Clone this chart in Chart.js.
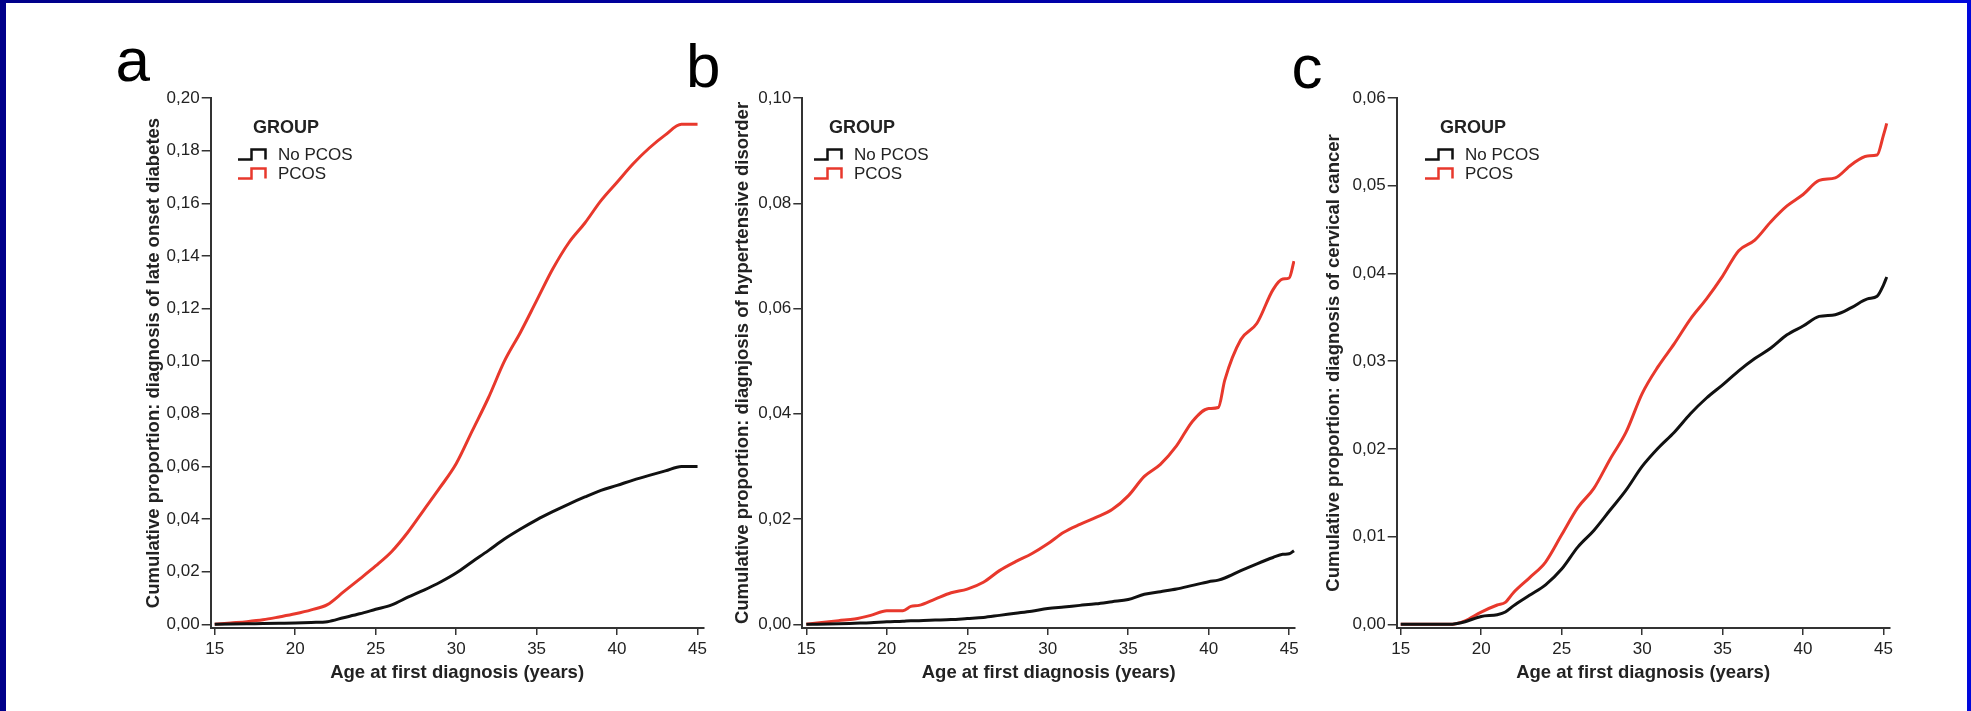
<!DOCTYPE html>
<html>
<head>
<meta charset="utf-8">
<script src="https://cdn.jsdelivr.net/npm/chart.js@4.4.1/dist/chart.umd.min.js"></script>
<style>
html,body{margin:0;padding:0;}
body{width:1971px;height:711px;position:relative;overflow:hidden;
  background:linear-gradient(90deg,#00008a 0%,#0000a4 50%,#0008dc 100%);}
#paper{position:absolute;left:6px;top:3px;width:1961px;height:708px;background:#fff;}
canvas{position:absolute;left:0;top:0;}
</style>
</head>
<body>
<div id="paper"></div>
<canvas id="ca" width="1971" height="711"></canvas>
<canvas id="cb" width="1971" height="711"></canvas>
<canvas id="cc" width="1971" height="711"></canvas>
<script>
// ---------- data ----------
const xTicks = [15, 20, 25, 30, 35, 40, 45];
const xTitle = 'Age at first diagnosis (years)';
const legendTitle = 'GROUP';
const seriesNames = ['No PCOS', 'PCOS'];

// Panel a: late onset diabetes
const agesA = [15,16,17,18,19,20,21,22,23,24,25,26,27,28,29,30,31,32,33,34,35,36,37,38,39,40,41,42,43,44,45];
const aNoPcos = [0,0.0001,0.0002,0.0003,0.0004,0.0005,0.0007,0.001,0.0025,0.004,0.0057,0.0074,0.0103,0.013,0.016,0.0195,0.0238,0.028,0.0324,0.0362,0.0397,0.0428,0.0457,0.0484,0.0509,0.0528,0.0548,0.0566,0.0583,0.06,0.06];
const aPcos = [0,0.0005,0.001,0.0017,0.0028,0.004,0.0055,0.0075,0.0123,0.0172,0.0222,0.0277,0.035,0.0435,0.052,0.061,0.0735,0.086,0.1,0.111,0.123,0.135,0.145,0.1525,0.161,0.168,0.175,0.181,0.186,0.19,0.19];
const yTicksA = [0,0.02,0.04,0.06,0.08,0.10,0.12,0.14,0.16,0.18,0.20];
const yTitleA = 'Cumulative proportion: diagnosis of late onset diabetes';

// Panel b: hypertensive disorder
const agesB = [15,17,18,19,20,21,21.5,22,23,24,25,26,27,28,29,30,31,32,33,34,35,36,37,38,39,40,40.6,41,42,43,44,44.6,45,45.3];
const bNoPcos = [0,0.0001,0.0002,0.0003,0.0005,0.0006,0.0007,0.0007,0.0008,0.0009,0.0011,0.0013,0.0017,0.0021,0.0025,0.003,0.0033,0.0036,0.0039,0.0043,0.0047,0.0057,0.0062,0.0067,0.0074,0.0081,0.0084,0.0088,0.0102,0.0115,0.0127,0.0133,0.0134,0.014];
const bPcos = [0,0.0007,0.001,0.0017,0.0026,0.0026,0.0034,0.0036,0.0048,0.006,0.0067,0.008,0.0102,0.0119,0.0134,0.0153,0.0175,0.019,0.0203,0.0218,0.0244,0.0281,0.0304,0.0339,0.0386,0.041,0.0412,0.0464,0.0541,0.0572,0.0636,0.0656,0.0658,0.069];
const yTicksB = [0,0.02,0.04,0.06,0.08,0.10];
const yTitleB = 'Cumulative proportion: diagnjosis of hypertensive disorder';

// Panel c: cervical cancer
const agesC = [15,16,17,18,18.5,19,20,21,21.5,22,23,24,25,26,27,28,29,30,31,32,33,34,35,36,37,38,39,40,41,42,43,44,44.6,45,45.2];
const cNoPcos = [0,0,0,0,0.0001,0.0003,0.0009,0.0011,0.0014,0.0021,0.0033,0.0045,0.0063,0.0088,0.0107,0.013,0.0153,0.018,0.0201,0.0219,0.024,0.0258,0.0273,0.0289,0.0303,0.0315,0.033,0.034,0.0351,0.0353,0.0361,0.0371,0.0374,0.0387,0.0396];
const cPcos = [0,0,0,0,0.0001,0.0004,0.0014,0.0022,0.0025,0.0036,0.0053,0.0071,0.0102,0.0133,0.0155,0.0188,0.0219,0.0263,0.0294,0.032,0.0348,0.0371,0.0397,0.0426,0.0438,0.0459,0.0477,0.049,0.0506,0.0509,0.0524,0.0534,0.0535,0.0558,0.0571];
const yTicksC = [0,0.01,0.02,0.03,0.04,0.05,0.06];
const yTitleC = 'Cumulative proportion: diagnosis of cervical cancer';

// ---------- rendering ----------
const FAMILY = '"Liberation Sans", Arial, Helvetica, sans-serif';
Chart.defaults.font.family = FAMILY;
const TXT = '#222';
const AXIS = '#333';
const COL_NO = '#111111';
const COL_PCOS = '#e8382c';

const overlay = {
  id: 'overlay',
  afterDraw(chart, args, o) {
    const ctx = chart.ctx;
    ctx.save();
    ctx.fillStyle = '#000';
    ctx.textAlign = 'left';
    ctx.textBaseline = 'alphabetic';
    ctx.font = '62px ' + FAMILY;
    ctx.fillText(o.letter, o.letterX, o.letterY);

    ctx.textBaseline = 'middle';
    ctx.fillStyle = TXT;
    ctx.font = 'bold 18px ' + FAMILY;
    const x0 = o.lx;
    ctx.fillText(legendTitle, x0 + 15, 128.5);
    chart.data.datasets.forEach((ds, i) => {
      const cy = 155 + i * 19;
      ctx.strokeStyle = ds.borderColor;
      ctx.lineWidth = 2.5;
      ctx.lineJoin = 'miter';
      ctx.beginPath();
      ctx.moveTo(x0, cy + 4.5);
      ctx.lineTo(x0 + 13.5, cy + 4.5);
      ctx.lineTo(x0 + 13.5, cy - 5.5);
      ctx.lineTo(x0 + 27.5, cy - 5.5);
      ctx.lineTo(x0 + 27.5, cy + 4.5);
      ctx.stroke();
      ctx.fillStyle = TXT;
      ctx.font = '17px ' + FAMILY;
      ctx.fillText(ds.label, x0 + 40, cy);
    });
    ctx.restore();
  }
};

function makePanel(id, ages, noPcos, pcos, yTicks, yTitle, yMin, L) {
  const pts = arr => ages.map((a, i) => ({x: a, y: arr[i]}));
  new Chart(document.getElementById(id), {
    type: 'line',
    data: {
      datasets: [
        {label: seriesNames[0], data: pts(noPcos), borderColor: COL_NO, borderWidth: 3,
         pointRadius: 0, cubicInterpolationMode: 'monotone', fill: false},
        {label: seriesNames[1], data: pts(pcos), borderColor: COL_PCOS, borderWidth: 3,
         pointRadius: 0, cubicInterpolationMode: 'monotone', fill: false}
      ]
    },
    options: {
      responsive: false,
      animation: false,
      devicePixelRatio: 1,
      layout: {padding: {left: L.yLeft, right: 1971 - L.right, top: 98, bottom: 23}},
      plugins: {
        legend: {display: false},
        tooltip: {enabled: false},
        overlay: L.overlay
      },
      scales: {
        x: {
          type: 'linear', min: 14.75, max: 45.37,
          afterBuildTicks: ax => { ax.ticks = xTicks.map(v => ({value: v})); },
          afterFit: ax => { ax.height = 60; },
          ticks: {font: {size: 17}, color: TXT, padding: 4, maxRotation: 0, autoSkip: false,
                  callback: v => String(v)},
          grid: {display: true, drawOnChartArea: false, drawTicks: true, tickLength: 7,
                 color: AXIS, lineWidth: 1.5},
          border: {display: true, color: AXIS, width: 2},
          title: {display: true, text: xTitle, color: TXT,
                  font: {size: 18.5, weight: 'bold'}, padding: {top: 0, bottom: 4}}
        },
        y: {
          type: 'linear', min: yMin, max: yTicks[yTicks.length - 1],
          afterBuildTicks: ax => { ax.ticks = yTicks.map(v => ({value: v})); },
          afterFit: ax => { ax.width = L.axisX - L.yLeft; },
          ticks: {font: {size: 17}, color: TXT, padding: 2,
                  callback: v => Number(v).toFixed(2).replace('.', ',')},
          grid: {display: true, drawOnChartArea: false, drawTicks: true, tickLength: 9,
                 color: AXIS, lineWidth: 1.5},
          border: {display: true, color: AXIS, width: 2},
          title: {display: true, text: yTitle, color: TXT,
                  font: {size: 18.5, weight: 'bold'}, padding: {top: 0, bottom: 0}}
        }
      }
    },
    plugins: [overlay]
  });
}

makePanel('ca', agesA, aNoPcos, aPcos, yTicksA, yTitleA, -0.0014,
  {yLeft: 142.9, axisX: 210.7, right: 703.5,
   overlay: {letter: 'a', letterX: 115.5, letterY: 81, lx: 238}});
makePanel('cb', agesB, bNoPcos, bPcos, yTicksB, yTitleB, -0.0007,
  {yLeft: 731.5, axisX: 802.3, right: 1295.1,
   overlay: {letter: 'b', letterX: 686, letterY: 87, lx: 814}});
makePanel('cc', agesC, cNoPcos, cPcos, yTicksC, yTitleC, -0.00042,
  {yLeft: 1323.1, axisX: 1396.7, right: 1889.5,
   overlay: {letter: 'c', letterX: 1291.5, letterY: 88, lx: 1425}});
</script>
</body>
</html>
